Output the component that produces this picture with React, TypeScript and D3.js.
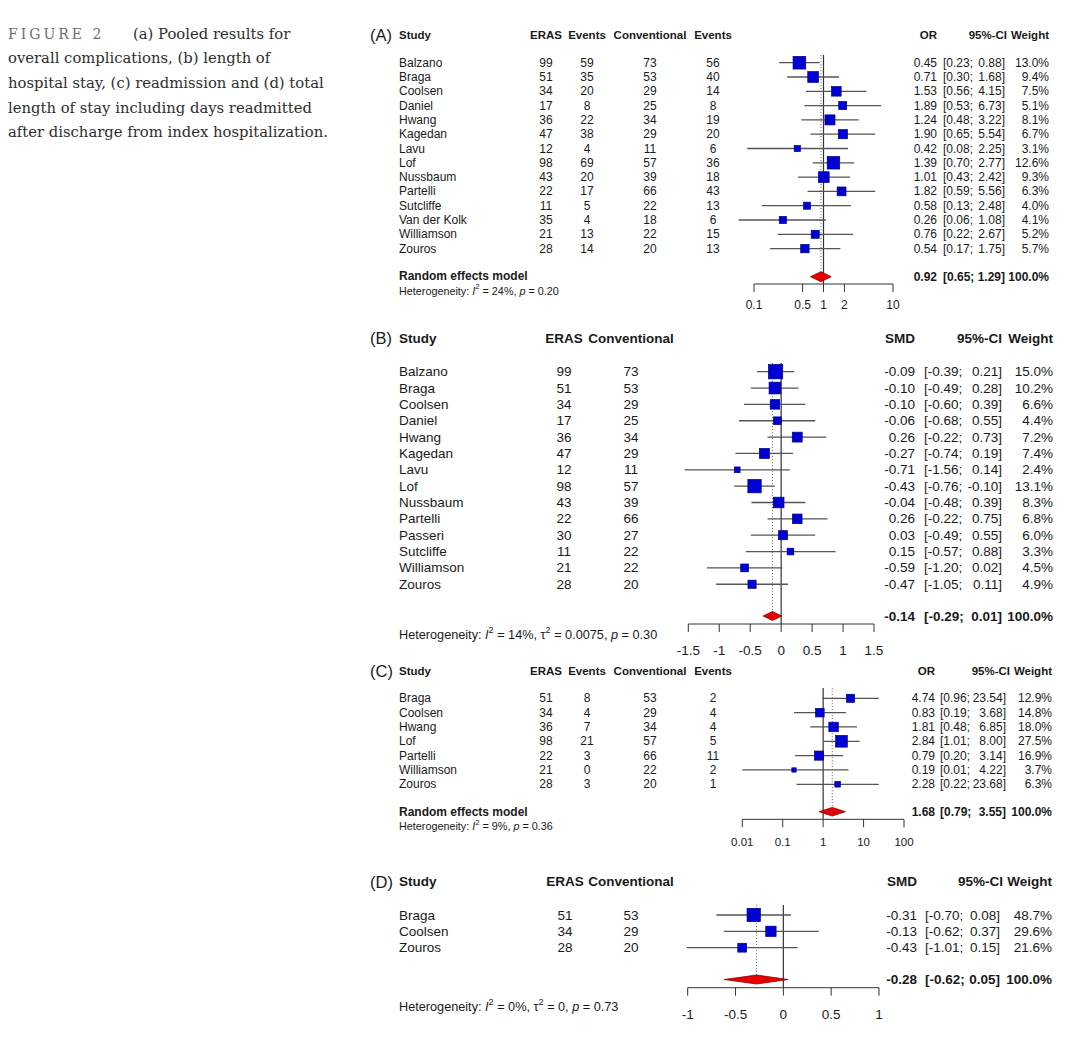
import React from "react";
import * as d3 from "d3";

// ---------- Caption ----------
const captionLines = [
  "overall complications, (b) length of",
  "hospital stay, (c) readmission and (d) total",
  "length of stay including days readmitted",
  "after discharge from index hospitalization.",
];

// ---------- Panel A: overall complications (OR) ----------
const aStudies = ["Balzano", "Braga", "Coolsen", "Daniel", "Hwang", "Kagedan", "Lavu", "Lof", "Nussbaum", "Partelli", "Sutcliffe", "Van der Kolk", "Williamson", "Zouros"];
const aErasN = [99, 51, 34, 17, 36, 47, 12, 98, 43, 22, 11, 35, 21, 28];
const aErasEvents = [59, 35, 20, 8, 22, 38, 4, 69, 20, 17, 5, 4, 13, 14];
const aConvN = [73, 53, 29, 25, 34, 29, 11, 57, 39, 66, 22, 18, 22, 20];
const aConvEvents = [56, 40, 14, 8, 19, 20, 6, 36, 18, 43, 13, 6, 15, 13];
const aEst = [0.45, 0.71, 1.53, 1.89, 1.24, 1.9, 0.42, 1.39, 1.01, 1.82, 0.58, 0.26, 0.76, 0.54];
const aLower = [0.23, 0.3, 0.56, 0.53, 0.48, 0.65, 0.08, 0.7, 0.43, 0.59, 0.13, 0.06, 0.22, 0.17];
const aUpper = [0.88, 1.68, 4.15, 6.73, 3.22, 5.54, 2.25, 2.77, 2.42, 5.56, 2.48, 1.08, 2.67, 1.75];
const aWeight = [13.0, 9.4, 7.5, 5.1, 8.1, 6.7, 3.1, 12.6, 9.3, 6.3, 4.0, 4.1, 5.2, 5.7];
const aPooled = [0.92, 0.65, 1.29];
const aTicks = [0.1, 0.5, 1, 2, 10];
const aHet = ["24%", "", "0.20"];

// ---------- Panel B: length of hospital stay (SMD) ----------
const bStudies = ["Balzano", "Braga", "Coolsen", "Daniel", "Hwang", "Kagedan", "Lavu", "Lof", "Nussbaum", "Partelli", "Passeri", "Sutcliffe", "Williamson", "Zouros"];
const bErasN = [99, 51, 34, 17, 36, 47, 12, 98, 43, 22, 30, 11, 21, 28];
const bConvN = [73, 53, 29, 25, 34, 29, 11, 57, 39, 66, 27, 22, 22, 20];
const bEst = [-0.09, -0.1, -0.1, -0.06, 0.26, -0.27, -0.71, -0.43, -0.04, 0.26, 0.03, 0.15, -0.59, -0.47];
const bLower = [-0.39, -0.49, -0.6, -0.68, -0.22, -0.74, -1.56, -0.76, -0.48, -0.22, -0.49, -0.57, -1.2, -1.05];
const bUpper = [0.21, 0.28, 0.39, 0.55, 0.73, 0.19, 0.14, -0.1, 0.39, 0.75, 0.55, 0.88, 0.02, 0.11];
const bWeight = [15.0, 10.2, 6.6, 4.4, 7.2, 7.4, 2.4, 13.1, 8.3, 6.8, 6.0, 3.3, 4.5, 4.9];
const bPooled = [-0.14, -0.29, 0.01];
const bTicks = [-1.5, -1, -0.5, 0, 0.5, 1, 1.5];
const bHet = ["14%", "0.0075", "0.30"];

// ---------- Panel C: readmission (OR) ----------
const cStudies = ["Braga", "Coolsen", "Hwang", "Lof", "Partelli", "Williamson", "Zouros"];
const cErasN = [51, 34, 36, 98, 22, 21, 28];
const cErasEvents = [8, 4, 7, 21, 3, 0, 3];
const cConvN = [53, 29, 34, 57, 66, 22, 20];
const cConvEvents = [2, 4, 4, 5, 11, 2, 1];
const cEst = [4.74, 0.83, 1.81, 2.84, 0.79, 0.19, 2.28];
const cLower = [0.96, 0.19, 0.48, 1.01, 0.2, 0.01, 0.22];
const cUpper = [23.54, 3.68, 6.85, 8.0, 3.14, 4.22, 23.68];
const cWeight = [12.9, 14.8, 18.0, 27.5, 16.9, 3.7, 6.3];
const cPooled = [1.68, 0.79, 3.55];
const cTicks = [0.01, 0.1, 1, 10, 100];
const cHet = ["9%", "", "0.36"];

// ---------- Panel D: total length of stay (SMD) ----------
const dStudies = ["Braga", "Coolsen", "Zouros"];
const dErasN = [51, 34, 28];
const dConvN = [53, 29, 20];
const dEst = [-0.31, -0.13, -0.43];
const dLower = [-0.7, -0.62, -1.01];
const dUpper = [0.08, 0.37, 0.15];
const dWeight = [48.7, 29.6, 21.6];
const dPooled = [-0.28, -0.62, 0.05];
const dTicks = [-1, -0.5, 0, 0.5, 1];
const dHet = ["0%", "0", "0.73"];

const SANS = "'Liberation Sans', Arial, Helvetica, sans-serif";
const SERIF = "'DejaVu Serif', 'Liberation Serif', serif";
const TXT = "#1a1a1a";

type Col = { header: string; values: number[]; x: number };
type Spec = {
  label: string;
  measure: string;
  studies: string[];
  cols: Col[];
  est: number[];
  lo: number[];
  hi: number[];
  w: number[];
  pooled: number[];
  ticks: number[];
  het: string[];
  log: boolean;
  xRange: [number, number];
  headerY: number;
  headerFont: number;
  font: number;
  rowY0: number;
  rowStep: number;
  axisY: number;
  tickLabelY: number;
  tickFont: number;
  refTop: number;
  pooledY: number;
  randomY: number | null;
  hetY: number;
  hetFont: number;
  estRight: number;
  ciLeft: number;
  ciRight: number;
  ciHeaderRight: number;
  wRight: number;
  maxSide: number;
  diamondH: number;
};

const f2 = (v: number) => v.toFixed(2);
const fw = (v: number) => v.toFixed(1) + "%";

function Het({ x, y, size, het }: { x: number; y: number; size: number; het: string[] }) {
  const sh = size * 0.38;
  const ss = size * 0.72;
  return (
    <text x={x} y={y} fontSize={size} fill={TXT} dominantBaseline="central">
      {"Heterogeneity: "}
      <tspan fontStyle="italic">I</tspan>
      <tspan dy={-sh} fontSize={ss}>2</tspan>
      <tspan dy={sh}>{" = " + het[0] + ", "}</tspan>
      {het[1] !== "" && (
        <>
          <tspan>τ</tspan>
          <tspan dy={-sh} fontSize={ss}>2</tspan>
          <tspan dy={sh}>{" = " + het[1] + ", "}</tspan>
        </>
      )}
      <tspan fontStyle="italic">p</tspan>
      <tspan>{" = " + het[2]}</tspan>
    </text>
  );
}

function Panel({ p }: { p: Spec }) {
  const domain: [number, number] = [p.ticks[0], p.ticks[p.ticks.length - 1]];
  const x: (v: number) => number = p.log
    ? d3.scaleLog().domain(domain).range(p.xRange)
    : d3.scaleLinear().domain(domain).range(p.xRange);
  const y = (i: number) => p.rowY0 + i * p.rowStep;
  const maxW = d3.max(p.w) as number;
  const side = (w: number) => p.maxSide * Math.sqrt(w / maxW);
  const ref = p.log ? 1 : 0;
  const dh = p.diamondH;
  const [pe, pl, ph] = p.pooled;
  const diamond = d3.line()([
    [x(pl), p.pooledY],
    [x(pe), p.pooledY - dh],
    [x(ph), p.pooledY],
    [x(pe), p.pooledY + dh],
  ]) + "Z";

  return (
    <g fontFamily={SANS}>
      {/* panel label & headers */}
      <text x={370} y={p.headerY} fontSize={16.5} fill={TXT} dominantBaseline="central">{p.label}</text>
      <text x={399} y={p.headerY} fontSize={p.headerFont} fontWeight="bold" fill={TXT} dominantBaseline="central">Study</text>
      {p.cols.map((c, k) => (
        <text key={"h" + k} x={c.x} y={p.headerY} fontSize={p.headerFont} fontWeight="bold" fill={TXT} textAnchor="middle" dominantBaseline="central">{c.header}</text>
      ))}
      <text x={p.estRight} y={p.headerY} fontSize={p.headerFont} fontWeight="bold" fill={TXT} textAnchor="end" dominantBaseline="central">{p.measure}</text>
      <text x={p.ciHeaderRight} y={p.headerY} fontSize={p.headerFont} fontWeight="bold" fill={TXT} textAnchor="end" dominantBaseline="central">95%-CI</text>
      <text x={p.wRight} y={p.headerY} fontSize={p.headerFont} fontWeight="bold" fill={TXT} textAnchor="end" dominantBaseline="central">Weight</text>

      {/* study rows text */}
      {p.studies.map((s, i) => (
        <g key={"r" + i} fontSize={p.font} fill={TXT}>
          <text x={399} y={y(i)} dominantBaseline="central">{s}</text>
          {p.cols.map((c, k) => (
            <text key={k} x={c.x} y={y(i)} textAnchor="middle" dominantBaseline="central">{c.values[i]}</text>
          ))}
          <text x={p.estRight} y={y(i)} textAnchor="end" dominantBaseline="central">{f2(p.est[i])}</text>
          <text x={p.ciLeft} y={y(i)} dominantBaseline="central">{"[" + f2(p.lo[i]) + ";"}</text>
          <text x={p.ciRight} y={y(i)} textAnchor="end" dominantBaseline="central">{f2(p.hi[i]) + "]"}</text>
          <text x={p.wRight} y={y(i)} textAnchor="end" dominantBaseline="central">{fw(p.w[i])}</text>
        </g>
      ))}

      {/* pooled row text */}
      <g fontSize={p.font} fontWeight="bold" fill={TXT}>
        {p.randomY !== null && (
          <text x={399} y={p.randomY} dominantBaseline="central">Random effects model</text>
        )}
        <text x={p.estRight} y={p.pooledY} textAnchor="end" dominantBaseline="central">{f2(pe)}</text>
        <text x={p.ciLeft} y={p.pooledY} dominantBaseline="central">{"[" + f2(pl) + ";"}</text>
        <text x={p.ciRight} y={p.pooledY} textAnchor="end" dominantBaseline="central">{f2(ph) + "]"}</text>
        <text x={p.wRight} y={p.pooledY} textAnchor="end" dominantBaseline="central">100.0%</text>
      </g>
      <Het x={399} y={p.hetY} size={p.hetFont} het={p.het} />

      {/* reference & pooled lines */}
      <line x1={x(ref)} x2={x(ref)} y1={p.refTop} y2={p.axisY} stroke="#333" strokeWidth={1.2} />
      <line x1={x(pe)} x2={x(pe)} y1={p.refTop} y2={p.pooledY - dh} stroke="#777" strokeWidth={1} strokeDasharray="1.2,1.8" />

      {/* CI lines & squares */}
      {p.studies.map((s, i) => {
        const sd = side(p.w[i]);
        return (
          <g key={"m" + i}>
            <line x1={x(p.lo[i])} x2={x(p.hi[i])} y1={y(i)} y2={y(i)} stroke="#555" strokeWidth={1.3} />
            <rect x={x(p.est[i]) - sd / 2} y={y(i) - sd / 2} width={sd} height={sd} fill="#0000d2" stroke="#00008a" strokeWidth={0.7} />
          </g>
        );
      })}

      {/* diamond */}
      <path d={diamond} fill="#e60000" stroke="#8b0000" strokeWidth={0.8} />

      {/* axis */}
      <line x1={p.xRange[0]} x2={p.xRange[1]} y1={p.axisY} y2={p.axisY} stroke="#333" strokeWidth={1} />
      {p.ticks.map((t, k) => (
        <g key={"t" + k}>
          <line x1={x(t)} x2={x(t)} y1={p.axisY} y2={p.axisY + 8} stroke="#333" strokeWidth={1} />
          <text x={x(t)} y={p.tickLabelY} fontSize={p.tickFont} fill={TXT} textAnchor="middle" dominantBaseline="central">{String(t)}</text>
        </g>
      ))}
    </g>
  );
}

const colsEvents = (n1: number[], e1: number[], n2: number[], e2: number[]): Col[] => [
  { header: "ERAS", values: n1, x: 546 },
  { header: "Events", values: e1, x: 587 },
  { header: "Conventional", values: n2, x: 650 },
  { header: "Events", values: e2, x: 713 },
];

const specs: Spec[] = [
  {
    label: "(A)", measure: "OR", studies: aStudies,
    cols: colsEvents(aErasN, aErasEvents, aConvN, aConvEvents),
    est: aEst, lo: aLower, hi: aUpper, w: aWeight, pooled: aPooled, ticks: aTicks, het: aHet,
    log: true, xRange: [754, 893],
    headerY: 35, headerFont: 11.5, font: 12, rowY0: 62.7, rowStep: 14.3,
    axisY: 284, tickLabelY: 305, tickFont: 12, refTop: 55, pooledY: 276.7, randomY: 276.2,
    hetY: 290.5, hetFont: 10.8, estRight: 937, ciLeft: 943, ciRight: 1005, ciHeaderRight: 1007, wRight: 1049,
    maxSide: 12.7, diamondH: 5,
  },
  {
    label: "(B)", measure: "SMD", studies: bStudies,
    cols: [
      { header: "ERAS", values: bErasN, x: 564 },
      { header: "Conventional", values: bConvN, x: 631 },
    ],
    est: bEst, lo: bLower, hi: bUpper, w: bWeight, pooled: bPooled, ticks: bTicks, het: bHet,
    log: false, xRange: [688.3, 874],
    headerY: 338, headerFont: 13.5, font: 13.5, rowY0: 371.7, rowStep: 16.35,
    axisY: 624, tickLabelY: 650, tickFont: 13.5, refTop: 363, pooledY: 616, randomY: null,
    hetY: 635, hetFont: 12.7, estRight: 915, ciLeft: 924, ciRight: 1002, ciHeaderRight: 1002, wRight: 1053,
    maxSide: 14.3, diamondH: 4.5,
  },
  {
    label: "(C)", measure: "OR", studies: cStudies,
    cols: colsEvents(cErasN, cErasEvents, cConvN, cConvEvents),
    est: cEst, lo: cLower, hi: cUpper, w: cWeight, pooled: cPooled, ticks: cTicks, het: cHet,
    log: true, xRange: [742.3, 904],
    headerY: 671, headerFont: 11.5, font: 12, rowY0: 698.3, rowStep: 14.33,
    axisY: 819.3, tickLabelY: 841.7, tickFont: 11.5, refTop: 688, pooledY: 811.7, randomY: 812.2,
    hetY: 826, hetFont: 10.8, estRight: 935, ciLeft: 940, ciRight: 1006, ciHeaderRight: 1010, wRight: 1052,
    maxSide: 11.7, diamondH: 4.3,
  },
  {
    label: "(D)", measure: "SMD", studies: dStudies,
    cols: [
      { header: "ERAS", values: dErasN, x: 565 },
      { header: "Conventional", values: dConvN, x: 631 },
    ],
    est: dEst, lo: dLower, hi: dUpper, w: dWeight, pooled: dPooled, ticks: dTicks, het: dHet,
    log: false, xRange: [687.7, 879],
    headerY: 881.7, headerFont: 13.5, font: 13.5, rowY0: 915, rowStep: 16.35,
    axisY: 987.7, tickLabelY: 1014, tickFont: 13.5, refTop: 905, pooledY: 979.5, randomY: null,
    hetY: 1006.7, hetFont: 12.7, estRight: 917, ciLeft: 925, ciRight: 1000, ciHeaderRight: 1003, wRight: 1052,
    maxSide: 13.3, diamondH: 4.5,
  },
];

export default function App() {
  return (
    <svg
      width={1080}
      height={1049}
      viewBox="0 0 1080 1049"
      style={{ position: "absolute", left: 0, top: 0, background: "#fff" }}
    >
      <rect x={0} y={0} width={1080} height={1049} fill="#fff" />
      {/* caption */}
      <g fontFamily={SERIF} fontSize={14.8} fill="#2e2e2e">
        <text x={8} y={38.5}>
          <tspan fill="#6e6e6e" fontSize={14} letterSpacing={3}>FIGURE 2</tspan>
          <tspan x={133}>(a) Pooled results for</tspan>
        </text>
        {captionLines.map((l, i) => (
          <text key={i} x={8} y={38.5 + (i + 1) * 24.7}>{l}</text>
        ))}
      </g>
      {specs.map((s) => (
        <Panel key={s.label} p={s} />
      ))}
    </svg>
  );
}
